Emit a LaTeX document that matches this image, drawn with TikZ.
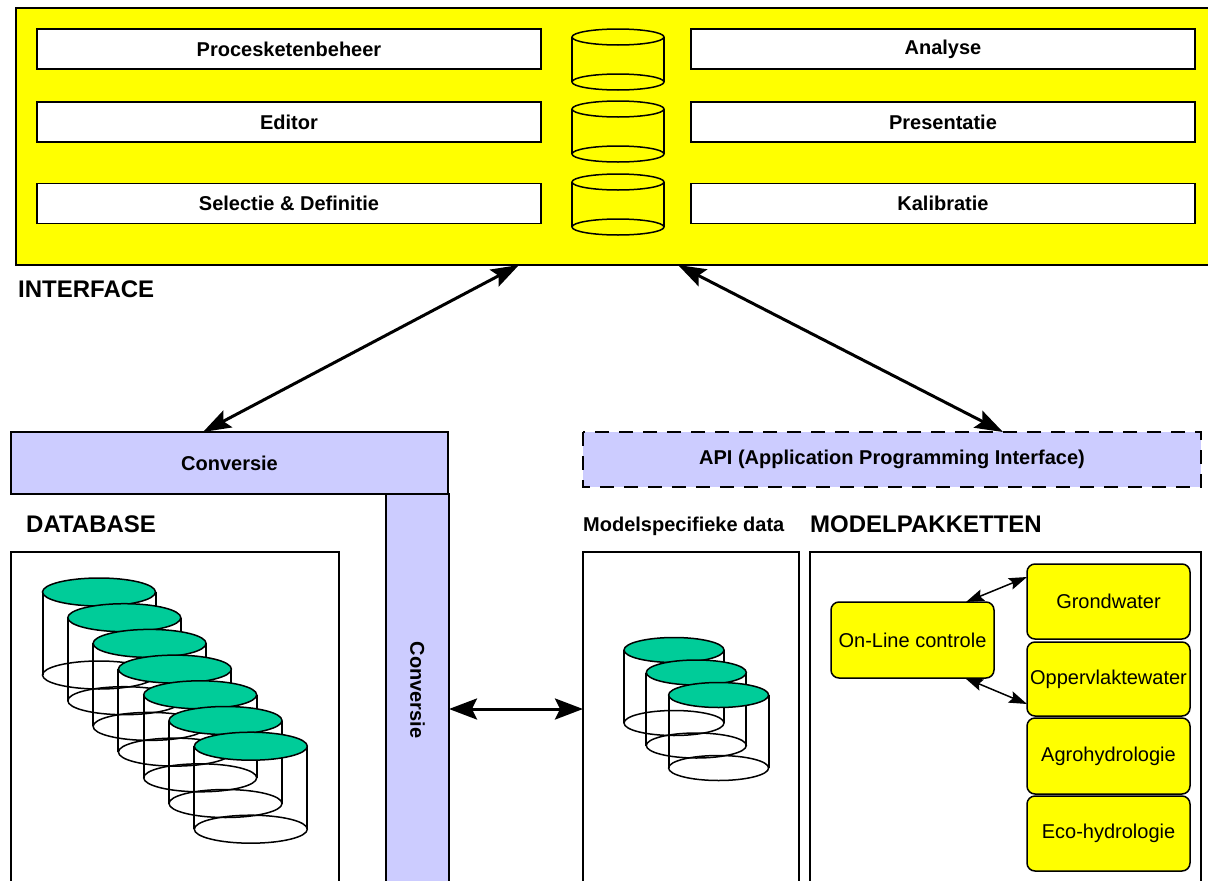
\documentclass[tikz,border=0pt]{standalone}
\usepackage{fontspec}
\setmainfont{Liberation Sans}
\usetikzlibrary{arrows.meta,calc}
\definecolor{ylw}{RGB}{255,255,0}
\definecolor{lav}{RGB}{204,204,255}
\definecolor{grn}{RGB}{0,204,153}
\tikzset{
  box/.style={draw=black, line width=1.5pt, rectangle, inner sep=0pt, outer sep=0pt},
  wbox/.style={box, fill=white, line width=1.8pt, minimum width=504pt, minimum height=40pt,
    font=\bfseries\fontsize{20}{24}\selectfont},
  lbox/.style={box, fill=lav, font=\bfseries\fontsize{20}{24}\selectfont},
  plain/.style={box, fill=white},
  rbox/.style={box, fill=ylw, rounded corners=8pt, minimum width=163pt,
    font=\fontsize{20}{24}\selectfont},
  hdr/.style={inner sep=0pt, anchor=base west, font=\bfseries\fontsize{24}{28}\selectfont},
  sub/.style={inner sep=0pt, anchor=base west, font=\bfseries\fontsize{20}{24}\selectfont},
  cyl/.style={draw=black, line width=1.5pt},
  cylside/.style={draw=black, line width=2pt},
  bigarrow/.style={line width=3pt, {Stealth[length=28pt,width=19pt,inset=5pt]}-{Stealth[length=28pt,width=19pt,inset=5pt]}},
  midarrow/.style={line width=3pt, {Stealth[length=28pt,width=21pt,inset=5pt]}-{Stealth[length=28pt,width=21pt,inset=5pt]}},
  smallarrow/.style={line width=1.5pt, {Stealth[length=18pt,width=12pt,inset=3pt]}-{Stealth[length=18pt,width=12pt,inset=3pt]}}
}
\begin{document}
\begin{tikzpicture}[x=1pt,y=-1pt]
\useasboundingbox (0,0) rectangle (1208,881);
\clip (0,0) rectangle (1208,881);
\fill[white] (0,0) rectangle (1208,881);

% INTERFACE block
\node[box, fill=ylw, line width=2pt, minimum width=1200pt, minimum height=257pt, anchor=north west] (iface) at (16,8) {};
\node[wbox] (proc) at (289,49) {Procesketenbeheer};
\node[wbox] (edit) at (289,122) {Editor};
\node[wbox] (sel) at (289,203.5) {Selectie \& Definitie};
\node[wbox] (ana) at (943,49) {Analyse};
\node[wbox] (pres) at (943,122) {Presentatie};
\node[wbox] (kal) at (943,203.5) {Kalibratie};
\foreach \y in {37,109,182} {
  \draw[cyl] (572,\y) -- (572,\y+45) (664,\y) -- (664,\y+45);
  \draw[cyl] (618,\y) ellipse [x radius=46pt, y radius=8pt];
  \draw[cyl] (618,\y+45) ellipse [x radius=46pt, y radius=8pt];
}
\node[hdr] (lint) at (18,297.6) {INTERFACE};

% Conversie L-shape
\node[lbox, minimum width=437pt, minimum height=62pt, anchor=north west] (conv) at (11,432) {Conversie};
\node[lbox, minimum width=63pt, minimum height=400pt, anchor=north west] (convv) at (386,494) {};
\node[rotate=-90, font=\bfseries\fontsize{20}{24}\selectfont, inner sep=0pt] (convt) at (417.5,690) {Conversie};

% API
\node[box, fill=lav, draw=none, minimum width=618pt, minimum height=55pt, anchor=north west] (api) at (583,432) {};
\draw[line width=2.5pt, dash pattern=on 14pt off 10pt] (api.north west) rectangle (api.south east);
\node[font=\bfseries\fontsize{20}{24}\selectfont] (apit) at (api.center) {API (Application Programming Interface)};

% headers
\node[hdr] (ldb) at (26,532.6) {DATABASE};
\node[sub] (lmd) at (583,531) {Modelspecifieke data};
\node[hdr] (lmp) at (810,532.6) {MODELPAKKETTEN};

% lower boxes
\node[plain, minimum width=328pt, minimum height=360pt, anchor=north west] (db) at (11,552) {};
\node[plain, minimum width=216pt, minimum height=360pt, anchor=north west] (md) at (583,552) {};
\node[plain, minimum width=391pt, minimum height=360pt, anchor=north west] (mp) at (810,552) {};

% database cylinders
\foreach \i in {0,...,6} {
  \pgfmathsetmacro\cx{99+25.3*\i}
  \pgfmathsetmacro\cy{592+25.7*\i}
  \draw[cylside] (\cx-56.5,\cy) -- (\cx-56.5,\cy+83) (\cx+56.5,\cy) -- (\cx+56.5,\cy+83);
  \draw[cyl] (\cx,\cy+83) ellipse [x radius=56.5pt, y radius=14pt];
  \draw[cyl, fill=grn] (\cx,\cy) ellipse [x radius=56.5pt, y radius=14pt];
}
% model specific data cylinders
\foreach \i in {0,1,2} {
  \pgfmathsetmacro\cx{674+22.3*\i}
  \pgfmathsetmacro\cy{650+22.5*\i}
  \draw[cylside] (\cx-50,\cy) -- (\cx-50,\cy+73) (\cx+50,\cy) -- (\cx+50,\cy+73);
  \draw[cyl] (\cx,\cy+73) ellipse [x radius=50pt, y radius=12.5pt];
  \draw[cyl, fill=grn] (\cx,\cy) ellipse [x radius=50pt, y radius=12.5pt];
}

% model packages
\node[rbox, minimum height=76pt] (onl) at (912.5,640) {On-Line controle};
\node[rbox, minimum height=75pt] (grw) at (1108.5,601.5) {Grondwater};
\node[rbox, minimum height=74pt] (opw) at (1108.5,679) {Oppervlaktewater};
\node[rbox, minimum height=76pt] (agr) at (1108.5,756) {Agrohydrologie};
\node[rbox, minimum height=75pt] (eco) at (1108.5,833.5) {Eco-hydrologie};

% connectors
\draw[bigarrow] (519,0 |- iface.south) -- (203,0 |- conv.north);
\draw[bigarrow] (678,0 |- iface.south) -- (1003,0 |- api.north);
\draw[midarrow] (convv.east |- 0,709) -- (md.west |- 0,709);
\draw[smallarrow] (966,0 |- onl.north) -- (grw.west |- 0,577);
\draw[smallarrow] (965,0 |- onl.south) -- (opw.west |- 0,704);
\end{tikzpicture}
\end{document}
